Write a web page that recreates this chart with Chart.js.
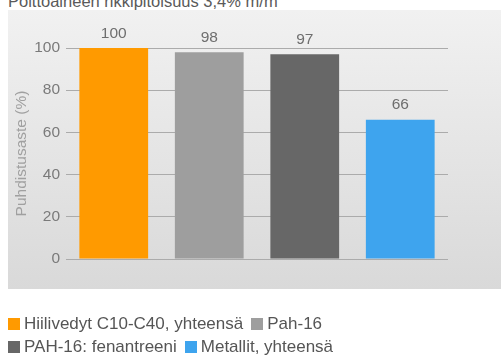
<!DOCTYPE html>
<html>
<head>
<meta charset="utf-8">
<script src="https://cdn.jsdelivr.net/npm/chart.js@4/dist/chart.umd.min.js"></script>
<style>
  html, body { margin: 0; padding: 0; background: #ffffff; }
  #wrap { position: relative; width: 501px; height: 358px; overflow: hidden; font-family: "Liberation Sans", Arial, sans-serif; }
  #panel { position: absolute; left: 8px; top: 10px; width: 493px; height: 279px;
           background: linear-gradient(to bottom, #f1f1f1 0%, #d9d9d9 100%); }
  #title { position: absolute; left: 8px; top: -8px; font-size: 16.5px; line-height: 19px; color: #5a5a5a; white-space: nowrap; }
  #chartBox { position: absolute; left: 0; top: 0; width: 501px; height: 358px; }
  #legend { position: absolute; left: 8px; top: 312px; font-size: 17px; color: #555; }
  .row { height: 23px; line-height: 23px; white-space: nowrap; display: flex; align-items: center; }
  .item { display: inline-flex; align-items: center; margin-right: 8px; }
  .box { width: 12px; height: 12px; margin-right: 4px; display: inline-block; }
</style>
</head>
<body>
<div id="wrap">
  <div id="panel"></div>
  <div id="title"></div>
  <div id="chartBox"><canvas id="c" width="501" height="358"></canvas></div>
  <div id="legend"></div>
</div>
<script>
const chartTitle = 'Polttoaineen rikkipitoisuus 3,4% m/m';
const categories = ['Hiilivedyt C10-C40, yhteensä', 'Pah-16', 'PAH-16: fenantreeni', 'Metallit, yhteensä'];
const values = [100, 98, 97, 66];
const colors = ['#ff9a00', '#9e9e9e', '#676767', '#3ea4ee'];
const yTicks = [0, 20, 40, 60, 80, 100];
const yAxisTitle = 'Puhdistusaste (%)';
const legendRows = [[0, 1], [2, 3]];

document.getElementById('title').textContent = chartTitle;

const datasets = categories.map((name, i) => ({
  label: name,
  data: values.map((v, j) => (j === i ? v : null)),
  backgroundColor: colors[i],
  borderWidth: 0,
  barPercentage: 0.72,
  categoryPercentage: 1.0,
  grouped: false
}));

const valueLabels = {
  id: 'valueLabels',
  afterDatasetsDraw(chart) {
    const ctx = chart.ctx;
    ctx.save();
    ctx.font = '15.5px "Liberation Sans", Arial, sans-serif';
    ctx.fillStyle = '#6e6e6e';
    ctx.textAlign = 'center';
    ctx.textBaseline = 'bottom';
    chart.data.datasets.forEach((ds, i) => {
      const meta = chart.getDatasetMeta(i);
      meta.data.forEach((bar, j) => {
        const v = ds.data[j];
        if (v === null || v === undefined) return;
        ctx.fillText(String(v), bar.x, bar.y - 7);
      });
    });
    ctx.restore();
  }
};

new Chart(document.getElementById('c'), {
  type: 'bar',
  data: { labels: categories, datasets: datasets },
  options: {
    responsive: false,
    animation: false,
    layout: { padding: { top: 48, right: 53, bottom: 99, left: 0 } },
    plugins: {
      legend: { display: false },
      title: { display: false },
      tooltip: { enabled: false }
    },
    scales: {
      x: { display: false },
      y: {
        min: 0,
        max: 100,
        afterBuildTicks(scale) { scale.ticks = yTicks.map(v => ({ value: v })); },
        afterFit(scale) { scale.width = 66; },
        border: { display: false },
        grid: { color: '#ababab', lineWidth: 1, drawTicks: false },
        ticks: {
          padding: 6,
          color: '#7a7a7a',
          font: { family: '"Liberation Sans", Arial, sans-serif', size: 15.5 }
        },
        title: {
          display: true,
          text: yAxisTitle,
          color: '#a0a0a0',
          padding: { top: 12, bottom: 0 },
          font: { family: '"Liberation Sans", Arial, sans-serif', size: 15.5 }
        }
      }
    }
  },
  plugins: [valueLabels]
});

const legendEl = document.getElementById('legend');
legendRows.forEach(row => {
  const r = document.createElement('div');
  r.className = 'row';
  row.forEach(i => {
    const it = document.createElement('span');
    it.className = 'item';
    const b = document.createElement('span');
    b.className = 'box';
    b.style.background = colors[i];
    const t = document.createElement('span');
    t.textContent = categories[i];
    it.appendChild(b);
    it.appendChild(t);
    r.appendChild(it);
  });
  legendEl.appendChild(r);
});
</script>
</body>
</html>
